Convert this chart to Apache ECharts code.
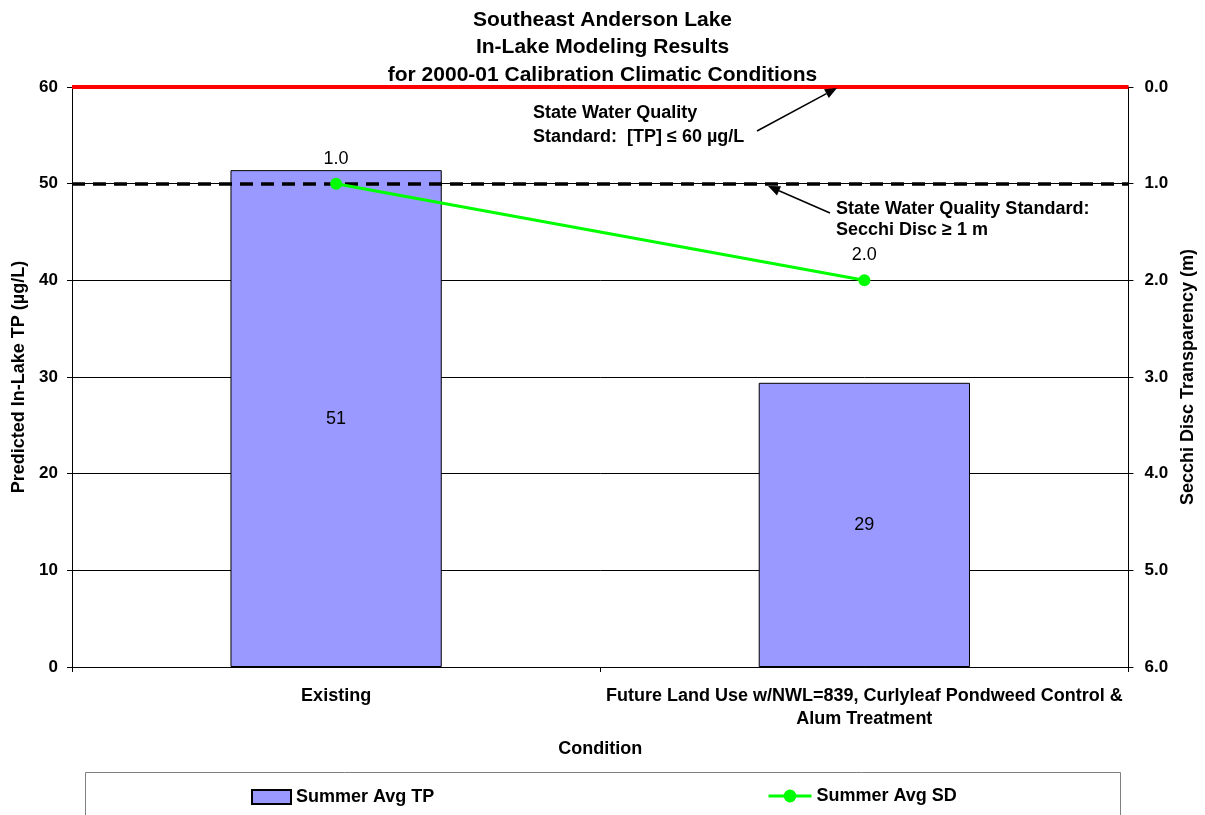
<!DOCTYPE html>
<html>
<head>
<meta charset="utf-8">
<title>Southeast Anderson Lake – In-Lake Modeling Results</title>
<script src="https://cdn.jsdelivr.net/npm/echarts@6/dist/echarts.min.js"></script>
<style>
  html, body { margin: 0; padding: 0; background: #fff; }
  #chart { width: 1205px; height: 815px; }
</style>
</head>
<body>
<div id="chart"></div>
<script>
// Scenario names along the category axis
const conditions = [
  'Existing',
  'Future Land Use w/NWL=839, Curlyleaf Pondweed Control &\nAlum Treatment'
];
// Summer average total phosphorus (µg/L), left axis
const summerAvgTP = [51.4, 29.4];
// Summer average Secchi disc depth (m), right axis (inverted)
const summerAvgSD = [1.0, 2.0];
// Water quality standards
const tpStandard = 60;   // µg/L
const sdStandard = 1.0;  // m
// Axis ticks
const tpTicks = { min: 0, max: 60, interval: 10 };
const sdTicks = { min: 0, max: 6, interval: 1 };

const FONT = 'Arial, "Liberation Sans", sans-serif';
const chart = echarts.init(document.getElementById('chart'));

// Arrow built from a shaft and a triangular head
function arrow(x1, y1, x2, y2) {
  const dx = x2 - x1, dy = y2 - y1;
  const len = Math.hypot(dx, dy);
  const ux = dx / len, uy = dy / len;
  const hl = 12, hw = 5;
  const bx = x2 - ux * hl, by = y2 - uy * hl;
  return [
    { type: 'line', z: 20, shape: { x1, y1, x2: bx, y2: by },
      style: { stroke: '#000', lineWidth: 1.5 } },
    { type: 'polygon', z: 20,
      shape: { points: [[x2, y2], [bx - uy * hw, by + ux * hw], [bx + uy * hw, by - ux * hw]] },
      style: { fill: '#000' } }
  ];
}

const boldText = { fontFamily: FONT, fontSize: 18, fontWeight: 'bold', color: '#000' };
const tickText = { fontFamily: FONT, fontSize: 17, fontWeight: 'bold', color: '#000' };

const option = {
  backgroundColor: '#fff',
  animation: false,
  textStyle: { fontFamily: FONT },
  title: {
    text: 'Southeast Anderson Lake\nIn-Lake Modeling Results\nfor 2000-01 Calibration Climatic Conditions',
    left: 'center',
    top: 1,
    textStyle: { fontFamily: FONT, fontSize: 21, fontWeight: 'bold', color: '#000', lineHeight: 27.5 }
  },
  legend: [
    {
      left: 246, top: 783,
      itemWidth: 39, itemHeight: 14,
      textStyle: boldText,
      data: [{ name: 'Summer Avg TP', icon: 'rect' }]
    },
    {
      left: 762, top: 782,
      itemWidth: 43, itemHeight: 16,
      textStyle: boldText,
      lineStyle: { width: 3 },
      data: ['Summer Avg SD']
    }
  ],
  grid: { left: 72, right: 74, top: 87, bottom: 148, containLabel: false },
  xAxis: {
    type: 'category',
    data: conditions,
    name: 'Condition',
    nameLocation: 'middle',
    nameGap: 73,
    nameTextStyle: boldText,
    axisLine: { lineStyle: { color: '#000', width: 1 } },
    axisTick: { show: true, alignWithLabel: false, length: 5, lineStyle: { color: '#000' } },
    axisLabel: Object.assign({ interval: 0, margin: 18, lineHeight: 23 }, boldText)
  },
  yAxis: [
    {
      type: 'value',
      min: tpTicks.min, max: tpTicks.max, interval: tpTicks.interval,
      name: 'Predicted In-Lake TP (µg/L)',
      nameLocation: 'middle',
      nameRotate: 90,
      nameGap: 42,
      nameTextStyle: boldText,
      axisLine: { show: true, lineStyle: { color: '#000', width: 1 } },
      axisTick: { show: true, length: 5, lineStyle: { color: '#000' } },
      axisLabel: Object.assign({ margin: 14 }, tickText),
      splitLine: { show: true, lineStyle: { color: '#000', width: 1 } }
    },
    {
      type: 'value',
      inverse: true,
      min: sdTicks.min, max: sdTicks.max, interval: sdTicks.interval,
      name: 'Secchi Disc Transparency (m)',
      nameLocation: 'middle',
      nameRotate: 90,
      nameGap: 50,
      nameTextStyle: boldText,
      axisLine: { show: true, lineStyle: { color: '#000', width: 1 } },
      axisTick: { show: true, length: 5, lineStyle: { color: '#000' } },
      axisLabel: Object.assign({ margin: 16, formatter: v => v.toFixed(1) }, tickText),
      splitLine: { show: false }
    }
  ],
  series: [
    {
      name: 'Summer Avg TP',
      type: 'bar',
      yAxisIndex: 0,
      data: summerAvgTP,
      barWidth: '40%',
      itemStyle: { color: '#9999FF', borderColor: '#000', borderWidth: 1 },
      label: {
        show: true, position: 'inside',
        fontFamily: FONT, fontSize: 18, color: '#000',
        formatter: p => Math.round(p.value).toString()
      },
      markLine: {
        silent: true, symbol: 'none', z: 6,
        label: { show: false },
        lineStyle: { color: '#FF0000', width: 4, type: 'solid' },
        data: [{ yAxis: tpStandard }]
      },
      z: 2
    },
    {
      name: 'Summer Avg SD',
      type: 'line',
      yAxisIndex: 1,
      data: summerAvgSD,
      symbol: 'circle',
      symbolSize: 12,
      lineStyle: { color: '#00FF00', width: 3 },
      itemStyle: { color: '#00FF00' },
      label: {
        show: true, position: 'top', distance: 10,
        fontFamily: FONT, fontSize: 18, color: '#000',
        formatter: p => p.value.toFixed(1)
      },
      markLine: {
        silent: true, symbol: 'none',
        label: { show: false },
        lineStyle: { color: '#000', width: 3.5, type: [13, 8] },
        data: [{ yAxis: sdStandard }]
      },
      z: 5
    }
  ],
  graphic: [
    {
      type: 'text', left: 533, top: 101, z: 20,
      style: {
        text: 'State Water Quality\nStandard:  [TP] ≤ 60 µg/L',
        font: 'bold 18px ' + FONT, fill: '#000', lineHeight: 24
      }
    },
    {
      type: 'text', left: 836, top: 199, z: 20,
      style: {
        text: 'State Water Quality Standard:\nSecchi Disc ≥ 1 m',
        font: 'bold 18px ' + FONT, fill: '#000', lineHeight: 21
      }
    },
    ...arrow(757, 131, 837, 88),
    ...arrow(830, 213, 768, 186),
    {
      type: 'rect', left: 83, top: 770, z: 0,
      shape: { width: 1035, height: 60 },
      style: { fill: 'none', stroke: '#808080', lineWidth: 1 }
    }
  ]
};

chart.setOption(option);
</script>
</body>
</html>
